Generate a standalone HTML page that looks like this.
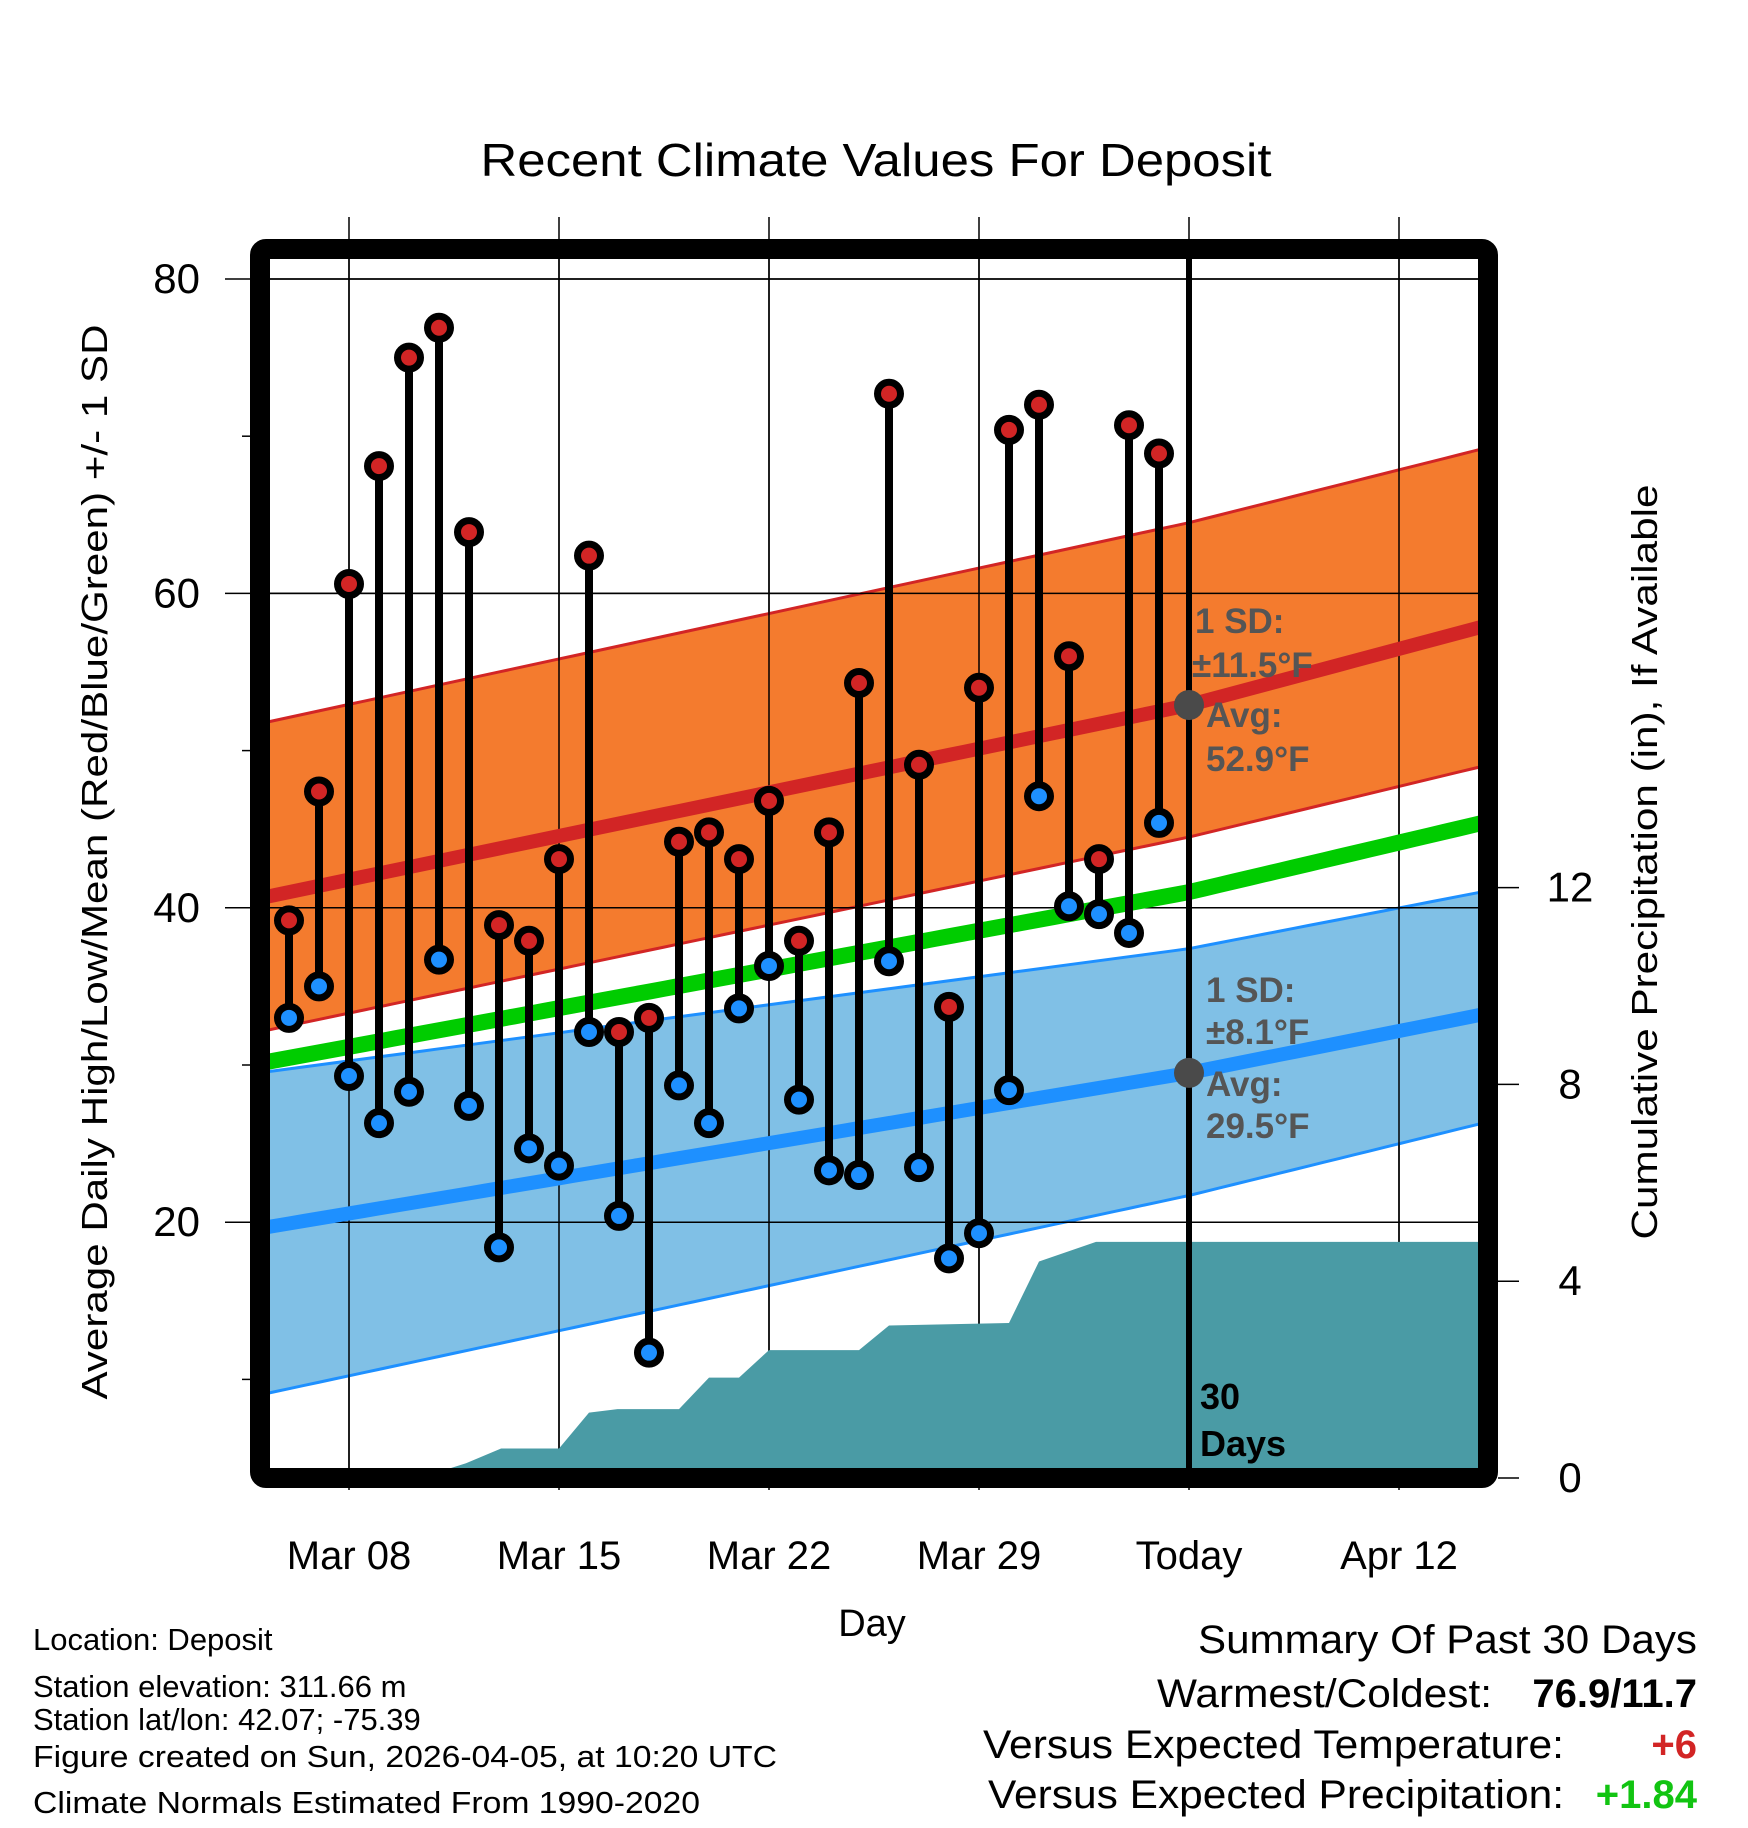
<!DOCTYPE html>
<html><head><meta charset="utf-8"><style>
html,body{margin:0;padding:0;background:#fff;}
svg{display:block;font-family:"Liberation Sans",sans-serif;}
</style></head><body>
<svg id="chart" width="1748" height="1828" viewBox="0 0 1748 1828" xmlns="http://www.w3.org/2000/svg">
<defs><clipPath id="clip"><rect x="268" y="258" width="1212" height="1212"/></clipPath></defs>
<g id="grid"></g>
<g id="plot" clip-path="url(#clip)"></g>
<g id="over"></g>
<text x="876" y="176" font-size="46" text-anchor="middle" textLength="791" lengthAdjust="spacingAndGlyphs">Recent Climate Values For Deposit</text>
<text transform="translate(107,862) rotate(-90)" font-size="36" text-anchor="middle" textLength="1075" lengthAdjust="spacingAndGlyphs">Average Daily High/Low/Mean (Red/Blue/Green) +/- 1 SD</text>
<text transform="translate(1657,862) rotate(-90)" font-size="36" text-anchor="middle" textLength="755" lengthAdjust="spacingAndGlyphs">Cumulative Precipitation (in), If Available</text>
<text x="872" y="1636" font-size="38" text-anchor="middle">Day</text>
<g font-size="31">
<text x="33" y="1650">Location: Deposit</text>
<text x="33" y="1697">Station elevation: 311.66 m</text>
<text x="33" y="1730">Station lat/lon: 42.07; -75.39</text>
<text x="33" y="1767" textLength="744" lengthAdjust="spacingAndGlyphs">Figure created on Sun, 2026-04-05, at 10:20 UTC</text>
<text x="33" y="1813" textLength="667" lengthAdjust="spacingAndGlyphs">Climate Normals Estimated From 1990-2020</text>
</g>
<g font-size="40">
<text x="1198" y="1653" textLength="499" lengthAdjust="spacingAndGlyphs">Summary Of Past 30 Days</text>
<text x="1157" y="1707" textLength="335" lengthAdjust="spacingAndGlyphs">Warmest/Coldest:</text>
<text x="1697" y="1707" text-anchor="end" font-weight="bold">76.9/11.7</text>
<text x="983" y="1758" textLength="581" lengthAdjust="spacingAndGlyphs">Versus Expected Temperature:</text>
<text x="1697" y="1758" text-anchor="end" font-weight="bold" fill="#D22525">+6</text>
<text x="988" y="1808" textLength="576" lengthAdjust="spacingAndGlyphs">Versus Expected Precipitation:</text>
<text x="1697" y="1808" text-anchor="end" font-weight="bold" fill="#12C412">+1.84</text>
</g>
</svg>
<script>
// days since Mar 08
const obsDays=[-2,-1,0,1,2,3,4,5,6,7,8,9,10,11,12,13,14,15,16,17,18,19,20,21,22,23,24,25,26,27];
const highs=[39.2,47.4,60.6,68.1,75.0,76.9,63.9,38.9,37.9,43.1,62.4,32.1,33.0,44.2,44.8,43.1,46.8,37.9,44.8,54.3,72.7,49.1,33.7,54.0,70.4,72.0,56.0,43.1,70.7,68.9];
const lows=[33.0,35.0,29.3,26.3,28.3,36.7,27.4,18.4,24.7,23.6,32.1,20.4,11.7,28.7,26.3,33.6,36.3,27.8,23.3,23.0,36.6,23.5,17.7,19.3,28.4,47.1,40.1,39.6,38.4,45.4];
const normDays=[-3,28,38];
const normHighMean=[40.6,52.9,58.0];
const normHighUpper=[51.7,64.5,69.3];
const normHighLower=[32.1,44.5,49.1];
const normLowMean=[19.6,29.5,33.3];
const normLowUpper=[29.5,37.4,41.1];
const normLowLower=[9.0,21.7,26.4];
const normMean=[30.1,41.0,45.5];
const precipDays=[-3,2.35,3.9,5.07,7,8,8.95,11,12,13,14,17,18,22,23,24.9,38];
const precipVals=[0,0,0.3,0.6,0.6,1.33,1.4,1.4,2.04,2.04,2.6,2.6,3.1,3.15,4.4,4.8,4.8];
const xTickDays=[0,7,14,21,28,35];
const xTickLabels=["Mar 08","Mar 15","Mar 22","Mar 29","Today","Apr 12"];
const yTicks=[20,40,60,80];
const yMinor=[10,30,50,70];
const pTicks=[0,4,8,12];
const todayDay=28;

const NS="http://www.w3.org/2000/svg";
const X=d=>349+d*30;
const Y=t=>279+(80-t)*15.72;
const P=v=>1478-v*49.2;
function interp(xs,ys,x){for(let i=0;i<xs.length-1;i++){if(x<=xs[i+1]){const f=(x-xs[i])/(xs[i+1]-xs[i]);return ys[i]+f*(ys[i+1]-ys[i]);}}return ys[ys.length-1];}
function mk(tag,attrs,parent){const e=document.createElementNS(NS,tag);for(const k in attrs)e.setAttribute(k,attrs[k]);parent.appendChild(e);return e;}
const plot=document.getElementById('plot'),over=document.getElementById('over'),grid=document.getElementById('grid');
const dd=[];for(let d=-3.5;d<=38.5;d+=0.5)dd.push(d);
function band(upper,lower,fill,edge,name){
  const up=dd.map(d=>[X(d),Y(interp(normDays,upper,d))]);
  const lo=dd.map(d=>[X(d),Y(interp(normDays,lower,d))]).reverse();
  const pth=mk('path',{d:'M'+up.concat(lo).map(p=>p.join(',')).join('L')+'Z',fill:fill},plot);
  
  
  [up,lo].forEach(arr=>{const l=mk('polyline',{points:arr.map(p=>p.join(',')).join(' '),fill:'none',stroke:edge,'stroke-width':3},plot);
    
    });
}
function line(mean,color,w,name){
  const l=mk('polyline',{points:dd.map(d=>X(d)+','+Y(interp(normDays,mean,d))).join(' '),fill:'none',stroke:color,'stroke-width':w},plot);
  
  
}
xTickDays.forEach(d=>{const g=mk('line',{x1:X(d),x2:X(d),y1:217,y2:1490,stroke:'#000','stroke-width':1.5},grid);
  
  });
yTicks.forEach(t=>{const g=mk('line',{x1:225,x2:1480,y1:Y(t),y2:Y(t),stroke:'#000','stroke-width':1.5},grid);
  
  });
band(normLowUpper,normLowLower,'#80C0E6','#1E90FF','low-normal');
band(normHighUpper,normHighLower,'#F47B2E','#D22525','high-normal');
yTicks.forEach(t=>{const g=mk('line',{x1:225,x2:1480,y1:Y(t),y2:Y(t),stroke:'#000','stroke-width':1.5},plot);
  
  });
xTickDays.forEach(d=>{const g=mk('line',{x1:X(d),x2:X(d),y1:250,y2:1480,stroke:'#000','stroke-width':1.5},plot);
  
  });
{const pts=precipDays.map((d,i)=>X(d)+','+P(precipVals[i]));
 const a=mk('polygon',{points:X(-3)+','+P(-1)+' '+pts.join(' ')+' '+X(38)+','+P(-1),fill:'#4A9BA5'},plot);
 
 }
line(normMean,'#00CC00',16,'mean-normal-line');
line(normLowMean,'#1E90FF',14,'low-normal-line');
line(normHighMean,'#D22525',14,'high-normal-line');
{const t=mk('line',{x1:X(todayDay),x2:X(todayDay),y1:250,y2:1480,stroke:'#000','stroke-width':6},plot);
 
 }
obsDays.forEach((d,i)=>{
  const s=mk('line',{x1:X(d),x2:X(d),y1:Y(highs[i]),y2:Y(lows[i]),stroke:'#000','stroke-width':8},plot);
  
  
});
obsDays.forEach((d,i)=>{
  const h=mk('circle',{cx:X(d),cy:Y(highs[i]),r:11.5,fill:'#D22525',stroke:'#000','stroke-width':7},plot);
  
  
  const l=mk('circle',{cx:X(d),cy:Y(lows[i]),r:11.5,fill:'#1E90FF',stroke:'#000','stroke-width':7},plot);
  
  
});
[[interp(normDays,normHighMean,todayDay),'high-avg-dot'],[interp(normDays,normLowMean,todayDay),'low-avg-dot']].forEach(a=>{
  const c=mk('circle',{cx:X(todayDay),cy:Y(a[0]),r:15,fill:'#4A4A4A'},plot);
  
  
});
function txt(x,y,s,attrs,parent,name){const t=mk('text',Object.assign({x:x,y:y},attrs),parent);t.textContent=s;
  
  return t;}
const ga={fill:'#555','font-size':35,'font-weight':'bold'};
txt(1195,633,'1 SD:',ga,over,'high-sd-label');
txt(1192,677,'±11.5°F',ga,over,'high-sd-value');
txt(1206,727,'Avg:',ga,over,'high-avg-label');
txt(1206,771,'52.9°F',ga,over,'high-avg-value');
txt(1206,1002,'1 SD:',ga,over,'low-sd-label');
txt(1206,1044,'±8.1°F',ga,over,'low-sd-value');
txt(1206,1096,'Avg:',ga,over,'low-avg-label');
txt(1206,1138,'29.5°F',ga,over,'low-avg-value');
txt(1200,1409,'30',{fill:'#000','font-size':36,'font-weight':'bold'},over,'days-count');
txt(1200,1456,'Days',{fill:'#000','font-size':36,'font-weight':'bold'},over,'days-label');
{const f=mk('rect',{x:260,y:249,width:1228,height:1229,fill:'none',stroke:'#000','stroke-width':20,rx:6},over);
 
 }
yTicks.forEach(t=>{txt(200,Y(t)+14,String(t),{'font-size':42,'text-anchor':'end'},over,'y-tick-label');});
yMinor.forEach(t=>{const m=mk('line',{x1:242,x2:252,y1:Y(t),y2:Y(t),stroke:'#000','stroke-width':1.5},over);
  
  });
pTicks.forEach(v=>{const m=mk('line',{x1:1498,x2:1519,y1:P(v),y2:P(v),stroke:'#000','stroke-width':1.5},over);
  
  
  txt(1570,P(v)+14,String(v),{'font-size':42,'text-anchor':'middle'},over,'y2-tick-label');});
xTickDays.forEach((d,i)=>{txt(X(d),1569,xTickLabels[i],{'font-size':40,'text-anchor':'middle'},over,'x-tick-label');});
</script>
</body></html>
